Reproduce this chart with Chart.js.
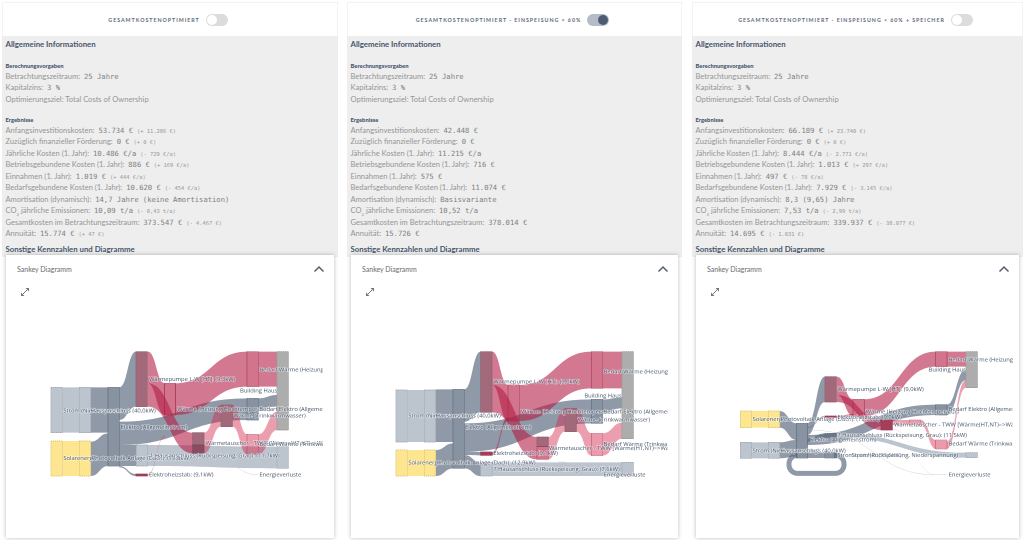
<!DOCTYPE html>
<html lang="de">
<head>
<meta charset="utf-8">
<title>Sankey Vergleich</title>
<script src="https://cdn.jsdelivr.net/npm/chart.js@4"></script>
<style>
    html, body { margin: 0; padding: 0; background: #fff; width: 1024px; height: 540px; overflow: hidden; }
    body { font-family: Lato, sans-serif; color: #959595; }
    .panel { position: absolute; top: 2px; height: 538px; }
    .head { height: 34px; border: 1px solid #f3f3f3; border-bottom: 0; padding-right: 4px; display: flex; align-items: center; justify-content: center; gap: 6px; box-sizing: border-box; }
    .head span { font-size: 5.3px; font-weight: 700; letter-spacing: .97px; color: #5d6a7a; }
    .toggle { width: 22px; height: 12px; border-radius: 6px; background: #dcdcdc; position: relative; }
    .toggle i { position: absolute; left: 1px; top: 1px; width: 10px; height: 10px; border-radius: 50%; background: #fff; }
    .toggle.on { background: #b4bcc7; }
    .toggle.on i { left: 11px; background: #4d5c72; }
    .body { position: absolute; top: 34px; left: 0; right: 0; height: 221px; background: #eeeeee; }
    .body div { position: absolute; left: 3.5px; white-space: nowrap; font-size: 7.55px; line-height: 11px; }
    .body b { color: #47566b; }
    .body .h1 b { font-size: 7.8px; font-weight: 700; }
    .body .h2 b { font-size: 5.8px; font-weight: 900; }
    .mono { font-family: "DejaVu Sans Mono", monospace; font-size: 7.2px; color: #808080; margin-left: 2px; }
    .delta { font-family: "DejaVu Sans Mono", monospace; font-size: 5.4px; color: #969696; margin-left: 2px; }
    sub { font-size: 4.5px; line-height: 0; }
    .card { position: absolute; top: 219px; left: 4px; right: 4px; height: 283px; background: #fff; box-shadow: 0 0 4px rgba(0,0,0,.28); }
    .card em { position: absolute; left: 11px; top: 9px; font-style: normal; font-size: 7px; color: #6b6b6b; line-height: 10px; }
    .card svg { position: absolute; }
    canvas { position: absolute; top: 340px; }
</style>
</head>
<body>
<div id="root"></div>
<script>
const panelLeft = [2, 347, 692];
const panelWidth = [336, 335, 331];
const canvasLeft = [0, 345, 690];
const canvasWidth = [345, 345, 334];
const panelTitles = ['GESAMTKOSTENOPTIMIERT', 'GESAMTKOSTENOPTIMIERT - EINSPEISUNG < 60%', 'GESAMTKOSTENOPTIMIERT - EINSPEISUNG < 60% + SPEICHER'];
const toggleOn = [false, true, false];

const inputLabels = ['Betrachtungszeitraum:', 'Kapitalzins:', 'Optimierungsziel:'];
const inputValues = ['25 Jahre', '3 %'];
const inputGoal = 'Total Costs of Ownership';
const resultLabels = ['Anfangsinvestitionskosten:', 'Zuzüglich finanzieller Förderung:', 'Jährliche Kosten (1. Jahr):', 'Betriebsgebundene Kosten (1. Jahr):', 'Einnahmen (1. Jahr):', 'Bedarfsgebundene Kosten (1. Jahr):', 'Amortisation (dynamisch):', 'CO<sub>2</sub> jährliche Emissionen:', 'Gesamtkosten im Betrachtungszeitraum:', 'Annuität:'];

const p1Results = ['53.734 €', '0 €', '10.486 €/a', '886 €', '1.019 €', '10.620 €', '14,7 Jahre (keine Amortisation)', '10,09 t/a', '373.547 €', '15.774 €'];
const p1Deltas = ['(+ 11.286 €)', '(+ 0 €)', '(- 729 €/a)', '(+ 169 €/a)', '(+ 444 €/a)', '(- 454 €/a)', '', '(- 0,43 t/a)', '(- 4.467 €)', '(+ 47 €)'];
const p2Results = ['42.448 €', '0 €', '11.215 €/a', '716 €', '575 €', '11.074 €', 'Basisvariante', '10,52 t/a', '378.014 €', '15.726 €'];
const p2Deltas = ['', '', '', '', '', '', '', '', '', ''];
const p3Results = ['66.189 €', '0 €', '8.444 €/a', '1.013 €', '497 €', '7.929 €', '8,3 (9,65) Jahre', '7,53 t/a', '339.937 €', '14.695 €'];
const p3Deltas = ['(+ 23.740 €)', '(+ 0 €)', '(- 2.771 €/a)', '(+ 297 €/a)', '(- 78 €/a)', '(- 3.145 €/a)', '', '(- 2,99 t/a)', '(- 38.077 €)', '(- 1.031 €)'];

// flows: from x, from top, from bottom, to x, to top, to bottom (flow units)
const p1Flows = [
    [188, 142, 278, 238, 142, 278], [188, 303, 408, 238, 303, 408],
    [272, 142, 278, 325, 142, 278], [272, 305, 408, 325, 280, 378],
    [358, 142, 240, 408, 35, 200], [358, 245, 315, 742, 175, 240],
    [358, 315, 378, 410, 315, 378], [358, 378, 382, 408, 402, 408],
    [775, 175, 205, 832, 165, 200], [443, 315, 378, 832, 320, 385],
    [443, 35, 130, 495, 130, 225], [525, 130, 225, 742, 35, 140],
    [775, 35, 140, 832, 35, 140], [443, 130, 200, 578, 278, 340],
    [612, 278, 340, 663, 195, 260], [697, 195, 260, 742, 283, 343],
    [775, 283, 343, 832, 215, 270], [443, 403, 407, 495, 288, 291],
    [643, 354, 355, 775, 404, 405]
];
const p1FlowKinds = ['grid', 'solar', 'slate', 'slate', 'slate', 'slate', 'slate', 'slate', 'slate', 'grid', 'heat', 'heat', 'heat', 'heat', 'warm', 'warm', 'warm', 'warm', 'loss'];
// nodes: centre x, top, bottom
const p1Nodes = [
    [170, 142, 278], [255, 142, 278], [170, 303, 408], [255, 303, 408], [341, 142, 378],
    [425, 35, 200], [425, 402, 408], [426, 315, 378], [510, 130, 225], [595, 278, 315], [595, 315, 340],
    [680, 195, 260], [758, 35, 140], [758, 175, 240], [758, 283, 343], [848, 35, 270], [848, 320, 385]
];
const p1NodeKinds = ['grid', 'grid', 'solar', 'solar', 'slate', 'rose', 'deep', 'grid', 'heat', 'rose', 'dark', 'rose', 'heat', 'slate', 'warm', 'sink', 'grid'];
const p1Labels = ['Strom (Niederspannung)', 'Hausanschluss (40,0kW)', 'Solarenergie', 'Photovoltaik-Anlage (Dach): (18,8kW)', 'Elektro (Allgemeinstrom)', 'Wärmepumpe L-W [HT]: (9,3kW)', 'Wärme (Heizung Hochtemperatur)', 'Wärme (Trinkwarmwasser)', 'Bedarf Wärme (Heizung)', 'Building Haus', 'Bedarf Elektro (Allgemeinstrom)', 'Wärmetauscher - TWW [Wärme(HT,NT)=>Wärme', 'Bedarf Wärme (Trinkwarmwasser)', '1 Hausanschluss (Rückspeisung, Grau): (11,7kW)', 'Elektroheizstab: (9,1kW)', 'Energieverluste'];
const p1LabelX = [190, 272, 190, 275, 362, 447, 532, 700, 778, 720, 778, 617, 778, 450, 447, 778];
const p1LabelY = [212, 212, 355, 355, 262, 118, 208, 228, 90, 153, 208, 310, 313, 347, 405, 405];

const p2Flows = [
    [188, 150, 306, 238, 150, 306], [188, 330, 408, 238, 330, 408],
    [272, 148, 306, 325, 148, 306], [272, 330, 408, 325, 310, 385],
    [358, 148, 245, 407, 35, 217], [358, 250, 335, 740, 178, 250],
    [358, 345, 385, 407, 367, 408], [358, 335, 345, 407, 336, 346],
    [773, 178, 215, 832, 172, 205], [441, 367, 408, 832, 367, 408],
    [441, 35, 135, 490, 135, 243], [523, 135, 243, 740, 35, 145],
    [773, 35, 145, 832, 35, 145], [441, 135, 217, 576, 291, 358],
    [610, 291, 358, 660, 205, 275], [694, 205, 275, 740, 280, 347],
    [773, 280, 347, 832, 248, 296], [441, 336, 346, 490, 232, 243],
    [640, 365, 366, 775, 404, 405]
];
const p2FlowKinds = ['grid', 'solar', 'slate', 'slate', 'slate', 'slate', 'slate', 'slate', 'slate', 'grid', 'heat', 'heat', 'heat', 'heat', 'warm', 'warm', 'warm', 'heat', 'loss'];
const p2Nodes = [
    [170, 150, 306], [255, 150, 306], [170, 330, 408], [255, 330, 408], [341, 148, 385],
    [424, 35, 217], [424, 336, 346], [424, 367, 408], [506, 135, 243], [593, 291, 320], [593, 320, 358],
    [677, 205, 275], [756, 35, 145], [756, 178, 250], [756, 280, 347], [848, 35, 296], [848, 367, 408]
];
const p2NodeKinds = ['grid', 'grid', 'solar', 'solar', 'slate', 'rose', 'deep', 'grid', 'heat', 'rose', 'heat', 'rose', 'heat', 'slate', 'warm', 'sink', 'grid'];
const p2Labels = ['Strom (Niederspannung)', 'Hausanschluss (40,0kW)', 'Solarenergie', 'Photovoltaik-Anlage (Dach): (12,9kW)', 'Elektro (Allgemeinstrom)', 'Wärmepumpe L-W [HT]: (9,0kW)', 'Wärme (Heizung Hochtemperatur)', 'Wärme (Trinkwarmwasser)', 'Bedarf Wärme (Heizung)', 'Building Haus', 'Bedarf Elektro (Allgemeinstrom)', 'Wärmetauscher - TWW [Wärme(HT,NT)=>Wärme', 'Bedarf Wärme (Trinkwarmwasser)', 'Elektroheizstab: (9,1kW)', '7 Hausanschluss (Rückspeisung, Grau): (7,6kW)', 'Energieverluste'];
const p2LabelX = [190, 272, 190, 275, 360, 445, 528, 698, 776, 718, 776, 612, 776, 445, 445, 776];
const p2LabelY = [228, 228, 368, 368, 262, 126, 215, 240, 95, 167, 215, 325, 313, 340, 388, 405];

const p3Flows = [
    [185, 213, 263, 236, 213, 263], [185, 307, 355, 236, 307, 355],
    [268, 213, 263, 320, 250, 300], [268, 307, 355, 320, 300, 350],
    [352, 250, 285, 405, 110, 186], [352, 338, 354, 405, 338, 354],
    [352, 285, 315, 738, 194, 225], [352, 295, 305, 405, 280, 292],
    [352, 262, 264, 405, 228, 232], [770, 194, 225, 828, 88, 120],
    [440, 280, 292, 828, 338, 353], [440, 110, 165, 490, 178, 228],
    [522, 178, 228, 738, 35, 80], [770, 35, 80, 828, 35, 80],
    [440, 165, 186, 573, 240, 270], [440, 228, 232, 490, 222, 228],
    [608, 240, 255, 658, 240, 255], [692, 240, 255, 738, 300, 327],
    [770, 305, 327, 828, 120, 143], [365, 270, 271, 738, 404, 405],
    [608, 268, 269, 738, 404, 405], [738, 404, 405, 772, 404, 405]
];
const p3FlowKinds = ['solar', 'grid', 'slate', 'slate', 'slate', 'slate', 'slate', 'slate', 'slate', 'slate', 'grid', 'heat', 'heat', 'heat', 'heat', 'heat', 'warm', 'warm', 'warm', 'loss', 'loss', 'loss'];
const p3Nodes = [
    [168, 213, 263], [252, 213, 263], [168, 307, 355], [252, 307, 355], [336, 250, 354],
    [422, 110, 186], [422, 228, 232], [422, 280, 292], [422, 338, 354], [506, 178, 228], [590, 240, 270],
    [675, 240, 255], [754, 35, 80], [754, 194, 225], [754, 300, 327], [845, 35, 143], [845, 338, 353]
];
const p3NodeKinds = ['solar', 'solar', 'grid', 'grid', 'slate', 'rose', 'deep', 'slate', 'slate', 'heat', 'deep', 'warm', 'heat', 'slate', 'warm', 'sink', 'grid'];
const p3Labels = ['Solarenergie', 'Photovoltaik-Anlage (Dach): (19,9kW)', 'Elektroheizstab: (9,0kW)', 'Strom (Niederspannung)', 'Hausanschluss (40,0kW)', 'Elektro (Allgemeinstrom)', 'Wärmepumpe L-W [HT]: (9,0kW)', 'Wärme (Heizung Hochtemperatur)', 'Bedarf Wärme (Heizung)', 'Building Haus', 'Bedarf Elektro (Allgemeinstrom)', 'Wärmetauscher - TWW [Wärme(HT,NT)=>Wärme', '7 Hausanschluss (Rückspeisung, Grau): (11,5kW)', 'Bedarf Wärme (Trinkwarmwasser)', 'Stromspeicher (39,6kW)', 'Strom (Rückspeisung, Niederspannung)', 'Energieverluste'];
const p3LabelX = [188, 272, 442, 188, 272, 360, 442, 527, 776, 716, 776, 612, 442, 776, 442, 485, 776];
const p3LabelY = [238, 238, 232, 332, 332, 300, 148, 215, 60, 90, 208, 255, 286, 312, 346, 346, 405];
// storage cycle: left x, right x, start y, bottom y, band width
const p3Cycle = [297, 462, 346, 400, 15];

const flowColors = { grid: '#bcc4ce', solar: '#fde68f', slate: 'rgba(90,105,125,.68)', heat: 'rgba(180,30,70,.6)', warm: 'rgba(210,40,75,.45)', loss: '#c4c9cf' };
const nodeColors = { grid: '#bcc4ce', solar: '#fde68f', slate: 'rgba(90,105,125,.72)', rose: '#a2697b', deep: '#a33f58', heat: 'rgba(180,30,70,.62)', warm: 'rgba(210,40,75,.47)', dark: '#8a4c60', sink: '#adadad' };

function infoLine(top, label, value, delta) {
    const d = delta ? `<span class="delta">${delta}</span>` : '';
    return `<div style="top:${top}px">${label} <span class="mono">${value}</span> ${d}</div>`;
}

function buildPanel(i, results, deltas) {
    const el = document.createElement('div');
    el.className = 'panel';
    el.style.left = panelLeft[i] + 'px';
    el.style.width = panelWidth[i] + 'px';
    let rows = '<div class="h1" style="top:3px"><b>Allgemeine Informationen</b></div>';
    rows += '<div class="h2" style="top:24px"><b>Berechnungsvorgaben</b></div>';
    inputValues.forEach((v, k) => { rows += infoLine(34.5 + k * 11.5, inputLabels[k], v); });
    rows += `<div style="top:57.5px">${inputLabels[2]} ${inputGoal}</div>`;
    rows += '<div class="h2" style="top:78px"><b>Ergebnisse</b></div>';
    results.forEach((v, k) => { rows += infoLine(88.5 + k * 11.5, resultLabels[k], v, deltas[k]); });
    rows += '<div class="h1" style="top:207.5px"><b>Sonstige Kennzahlen und Diagramme</b></div>';
    el.innerHTML = `<div class="head"><span>${panelTitles[i].replace('<', '&lt;')}</span><div class="toggle${toggleOn[i] ? ' on' : ''}"><i></i></div></div>
        <div class="body">${rows}<section class="card"><em>Sankey Diagramm</em>
        <svg style="right:9px;top:10px" width="12" height="8" viewBox="0 0 12 8"><path d="M1.5 6.5 6 2l4.5 4.5" fill="none" stroke="#56606c" stroke-width="1.5"/></svg>
        <svg style="left:14px;top:32px" width="10" height="10" viewBox="0 0 10 10"><path d="M3 7l4-4" stroke="#6d7680" stroke-width="1"/><path d="M5.5 1H9v3.5zM1 5.5V9h3.5z" fill="#6d7680"/></svg>
        </section></div>`;
    document.getElementById('root').appendChild(el);
}

const sankeyPlugin = {
    id: 'sankey',
    beforeDatasetsDraw(chart, args, opts) {
        const { ctx, scales: { x, y } } = chart;
        ctx.save();
        if (opts.cycle) {
            const [left, right, start, bottom, width] = opts.cycle;
            const r = x.getPixelForValue(left + 28) - x.getPixelForValue(left);
            ctx.beginPath();
            ctx.moveTo(x.getPixelForValue(right - 30), y.getPixelForValue(start));
            ctx.arcTo(x.getPixelForValue(right), y.getPixelForValue(start), x.getPixelForValue(right), y.getPixelForValue(bottom), r * 0.9);
            ctx.arcTo(x.getPixelForValue(right), y.getPixelForValue(bottom), x.getPixelForValue(left), y.getPixelForValue(bottom), r * 0.9);
            ctx.arcTo(x.getPixelForValue(left), y.getPixelForValue(bottom), x.getPixelForValue(left), y.getPixelForValue(start), r * 0.9);
            ctx.arcTo(x.getPixelForValue(left), y.getPixelForValue(start), x.getPixelForValue(left + 30), y.getPixelForValue(start), r * 0.9);
            ctx.lineWidth = y.getPixelForValue(width) - y.getPixelForValue(0);
            ctx.strokeStyle = flowColors.slate;
            ctx.stroke();
        }
        opts.flows.forEach((f, i) => {
            const x0 = x.getPixelForValue(f[0]);
            const x1 = x.getPixelForValue(f[3]);
            const xm = (x0 + x1) / 2;
            ctx.beginPath();
            ctx.moveTo(x0, y.getPixelForValue(f[1]));
            ctx.bezierCurveTo(xm, y.getPixelForValue(f[1]), xm, y.getPixelForValue(f[4]), x1, y.getPixelForValue(f[4]));
            ctx.lineTo(x1, y.getPixelForValue(f[5]));
            ctx.bezierCurveTo(xm, y.getPixelForValue(f[5]), xm, y.getPixelForValue(f[2]), x0, y.getPixelForValue(f[2]));
            ctx.closePath();
            ctx.fillStyle = flowColors[opts.kinds[i]];
            ctx.fill();
        });
        ctx.restore();
    },
    afterDatasetsDraw(chart, args, opts) {
        const { ctx, scales: { x, y } } = chart;
        ctx.save();
        // dotted node outlines
        ctx.setLineDash([1, 1]);
        ctx.lineWidth = 0.5;
        ctx.strokeStyle = 'rgba(60,60,70,.4)';
        chart.getDatasetMeta(0).data.forEach(bar => {
            const p = bar.getProps(['x', 'y', 'base', 'width'], true);
            ctx.strokeRect(p.x - p.width / 2, Math.min(p.y, p.base), p.width, Math.abs(p.base - p.y));
        });
        ctx.setLineDash([]);
        // labels are cut at the right edge of the plot
        ctx.beginPath();
        ctx.rect(0, 0, x.getPixelForValue(968), chart.height);
        ctx.clip();
        ctx.font = '5.8px "Open Sans"';
        ctx.textBaseline = 'middle';
        ctx.lineJoin = 'round';
        opts.labels.forEach((t, i) => {
            const lx = x.getPixelForValue(opts.labelX[i]);
            const ly = y.getPixelForValue(opts.labelY[i]);
            ctx.lineWidth = 1.2;
            ctx.strokeStyle = 'rgba(255,255,255,.55)';
            ctx.strokeText(t, lx, ly);
            ctx.fillStyle = '#44546a';
            ctx.fillText(t, lx, ly);
        });
        ctx.restore();
    }
};

function drawSankey(i, nodes, nodeKinds, flows, kinds, labels, labelX, labelY, cycle) {
    const canvas = document.createElement('canvas');
    canvas.style.left = canvasLeft[i] + 'px';
    canvas.style.width = canvasWidth[i] + 'px';
    canvas.style.height = '160px';
    canvas.width = canvasWidth[i];
    canvas.height = 160;
    document.getElementById('root').appendChild(canvas);
    new Chart(canvas.getContext('2d'), {
        type: 'bar',
        data: {
            datasets: [{
                data: nodes.map(n => ({ x: n[0], y: [n[1], n[2]] })),
                backgroundColor: nodeKinds.map(k => nodeColors[k]),
                barThickness: 11.4
            }]
        },
        options: {
            responsive: false,
            animation: false,
            devicePixelRatio: 2,
            layout: { padding: 0 },
            scales: {
                x: { type: 'linear', display: false, offset: false, min: 0, max: canvasWidth[i] * 3 },
                y: { type: 'linear', display: false, min: 0, max: 480, reverse: true }
            },
            plugins: {
                legend: { display: false },
                tooltip: { enabled: false },
                sankey: { flows, kinds, labels, labelX, labelY, cycle }
            }
        },
        plugins: [sankeyPlugin]
    });
}

buildPanel(0, p1Results, p1Deltas);
buildPanel(1, p2Results, p2Deltas);
buildPanel(2, p3Results, p3Deltas);
drawSankey(0, p1Nodes, p1NodeKinds, p1Flows, p1FlowKinds, p1Labels, p1LabelX, p1LabelY);
drawSankey(1, p2Nodes, p2NodeKinds, p2Flows, p2FlowKinds, p2Labels, p2LabelX, p2LabelY);
drawSankey(2, p3Nodes, p3NodeKinds, p3Flows, p3FlowKinds, p3Labels, p3LabelX, p3LabelY, p3Cycle);
</script>
</body>
</html>
